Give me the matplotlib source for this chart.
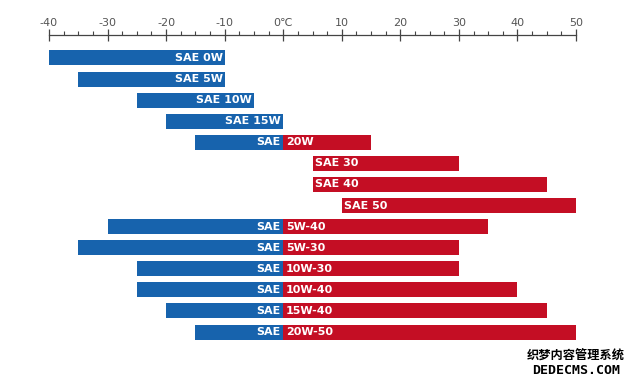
import matplotlib.pyplot as plt
from matplotlib.ticker import MultipleLocator, FixedLocator

# SAE grades and their temperature ranges (deg C)
grades = ["0W", "5W", "10W", "15W", "20W", "30", "40", "50",
          "5W-40", "5W-30", "10W-30", "10W-40", "15W-40", "20W-50"]
low = [-40, -35, -25, -20, -15, 5, 5, 10, -30, -35, -25, -25, -20, -15]
high = [-10, -10, -5, 0, 15, 30, 45, 50, 35, 30, 30, 40, 45, 50]

ticks = [-40, -30, -20, -10, 0, 10, 20, 30, 40, 50]
tick_labels = ["-40", "-30", "-20", "-10", "0\u2103", "10", "20", "30", "40", "50"]

BLUE = "#1763ad"
RED = "#c40e24"

W, H = 635, 382
fig = plt.figure(figsize=(W / 100, H / 100), dpi=100)
ax = fig.add_axes([49 / W, 0, 527 / W, (H - 35) / H])

row0, step = 58, 21.08
ax.set_xlim(-40, 50)
ax.set_ylim(13 + (H - 332) / step, -(row0 - 35) / step)

bh = 15 / step
lab = dict(color="white", fontsize=8, fontweight="bold", va="center",
           family="DejaVu Sans")
for i, g in enumerate(grades):
    lo, hi = low[i], high[i]
    if hi <= 0:
        ax.barh(i, hi - lo, left=lo, height=bh, color=BLUE)
        ax.text(hi - 0.35, i, "SAE " + g, ha="right", **lab)
    elif lo >= 0:
        ax.barh(i, hi - lo, left=lo, height=bh, color=RED)
        ax.text(lo + 0.35, i, "SAE " + g, ha="left", **lab)
    else:
        ax.barh(i, -lo, left=lo, height=bh, color=BLUE)
        ax.barh(i, hi, left=0, height=bh, color=RED)
        ax.text(-0.5, i, "SAE", ha="right", **lab)
        ax.text(0.5, i, g, ha="left", **lab)

for s in ["left", "right", "bottom"]:
    ax.spines[s].set_visible(False)
ax.spines["top"].set_color("#444444")
ax.spines["top"].set_linewidth(0.9)
ax.set_yticks([])
ax.xaxis.tick_top()
ax.xaxis.set_major_locator(FixedLocator(ticks))
ax.set_xticklabels(tick_labels)
ax.xaxis.set_minor_locator(MultipleLocator(2.5))
ax.tick_params(axis="x", which="major", direction="inout", length=8,
               width=0.9, color="#444444", labelsize=8, labelcolor="#555555",
               pad=1)
ax.tick_params(axis="x", which="minor", direction="out", length=3,
               width=0.8, color="#444444")

# watermark
fig.text(576 / W, 1 - 356 / H, "织梦内容管理系统", ha="center", va="center",
         fontsize=8.8, fontweight="bold", family=["Noto Sans CJK SC"])
fig.text(576 / W, 1 - 371 / H, "DEDECMS.COM", ha="center", va="center",
         fontsize=9.5, fontweight="bold", family=["DejaVu Sans Mono"])

fig.savefig("out.png", dpi=100)
